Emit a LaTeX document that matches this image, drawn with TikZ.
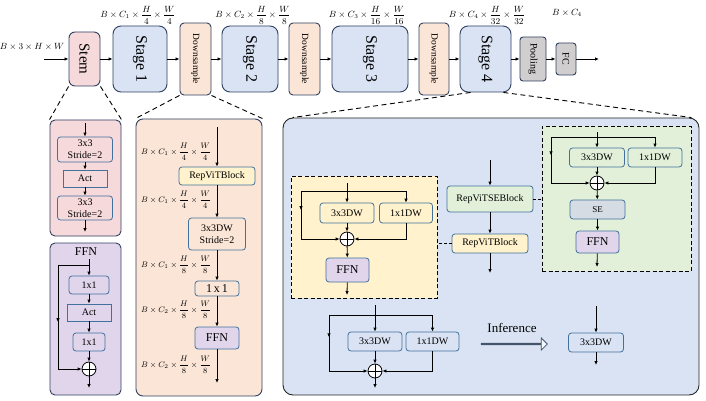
\documentclass[tikz,border=0pt]{standalone}
\usepackage{amsmath}
\usepackage{fontspec}
\setmainfont{Liberation Serif}
\usetikzlibrary{arrows.meta,calc,shapes.arrows}
\definecolor{cPink}{HTML}{F6D9DB}
\definecolor{cBlue}{HTML}{DAE3F3}
\definecolor{cPeach}{HTML}{FBE5D6}
\definecolor{cGray}{HTML}{D0CECE}
\definecolor{cPurple}{HTML}{E1D5EC}
\definecolor{cYellow}{HTML}{FFF2CC}
\definecolor{cGreen}{HTML}{E2F0D9}
\definecolor{cSE}{HTML}{D6DCE4}
\definecolor{cBord}{HTML}{2F4060}
\definecolor{cInner}{HTML}{41719C}
\definecolor{cArrow}{HTML}{44546A}
\newcommand{\myfs}[1]{\fontsize{#1}{#1}\selectfont}
\begin{document}
\begin{tikzpicture}[x=1pt,y=-1pt,
  arr/.style={-{Latex[length=4pt,width=3.5pt]}, line width=0.8pt},
  plain/.style={line width=0.8pt},
  topb/.style={draw=cBord, line width=0.9pt, inner sep=0pt, align=center},
  stagebox/.style={topb, fill=cBlue, rounded corners=8pt, font=\myfs{16}},
  dsbox/.style={topb, fill=cPeach, rounded corners=4pt, font=\myfs{9.5}},
  graybox/.style={topb, fill=cGray, rounded corners=3pt, font=\myfs{10}},
  ib/.style={draw=cInner, line width=0.8pt, rounded corners=3pt, inner sep=0pt, align=center, font=\myfs{10}},
  sq/.style={draw=cInner, line width=0.8pt, inner sep=0pt, align=center, font=\myfs{10}},
  panel/.style={draw=cBord, line width=0.9pt, rounded corners=5pt, inner sep=0pt},
  dpanel/.style={draw=black, line width=0.9pt, dash pattern=on 4pt off 2.5pt, inner sep=0pt},
  conn/.style={line width=0.9pt, dash pattern=on 5pt off 3.5pt},
  addn/.style={circle, draw, fill=white, line width=0.8pt, minimum size=14pt, inner sep=0pt,
    path picture={\draw[line width=0.8pt] (path picture bounding box.north) -- (path picture bounding box.south) (path picture bounding box.west) -- (path picture bounding box.east);}},
  lab/.style={font=\myfs{9}, inner sep=0pt},
  mlab/.style={font=\myfs{8}, inner sep=0pt, anchor=west},
]
\useasboundingbox (0,0) rectangle (706,401);

% ---------- panels ----------
\node[panel, fill=cPink, minimum width=71pt, minimum height=116pt] (pp) at (85.5,178) {};
\node[panel, fill=cPurple, minimum width=71pt, minimum height=152pt] (fp) at (85.5,319) {};
\node[panel, fill=cPeach, rounded corners=7pt, minimum width=126pt, minimum height=277pt] (mp) at (199,257.5) {};
\node[panel, fill=cBlue, draw=black!85, rounded corners=10pt, minimum width=416pt, minimum height=277pt] (rp) at (491,256.5) {};
\node[dpanel, fill=cYellow, minimum width=146pt, minimum height=122pt] (yb) at (364,237) {};
\node[dpanel, fill=cGreen, minimum width=149pt, minimum height=145pt] (gb) at (616.5,198.5) {};

% ---------- top row ----------
\coordinate (in) at (44,59);
\node[topb, fill=cPink, rounded corners=6pt, minimum width=31pt, minimum height=54pt, font=\myfs{15}] (stem) at (84.5,59) {\rotatebox{-90}{Stem}};
\node[stagebox, minimum width=54pt, minimum height=66pt] (s1) at (140,59) {\rotatebox{-90}{Stage 1}};
\node[dsbox, minimum width=31pt, minimum height=72pt] (d1) at (195.5,59) {\rotatebox{-90}{Downsample}};
\node[stagebox, minimum width=56pt, minimum height=66pt] (s2) at (250,59) {\rotatebox{-90}{Stage 2}};
\node[dsbox, minimum width=31pt, minimum height=72pt] (d2) at (304.5,59) {\rotatebox{-90}{Downsample}};
\node[stagebox, minimum width=76pt, minimum height=66pt] (s3) at (370,59) {\rotatebox{-90}{Stage 3}};
\node[dsbox, minimum width=30pt, minimum height=72pt] (d3) at (434,59) {\rotatebox{-90}{Downsample}};
\node[stagebox, minimum width=51pt, minimum height=66pt] (s4) at (485.5,59) {\rotatebox{-90}{Stage 4}};
\node[graybox, minimum width=26pt, minimum height=44pt] (pool) at (533,59) {\rotatebox{-90}{Pooling}};
\node[graybox, minimum width=20pt, minimum height=32pt] (fc) at (566,59) {\rotatebox{-90}{FC}};
\coordinate (out) at (599,59);
\draw[arr] (in) -- (stem);
\draw[arr] (stem) -- (s1);
\draw[arr] (s1) -- (d1);
\draw[arr] (d1) -- (s2);
\draw[arr] (s2) -- (d2);
\draw[arr] (d2) -- (s3);
\draw[arr] (s3) -- (d3);
\draw[arr] (d3) -- (s4);
\draw[arr] (s4) -- (pool);
\draw[arr] (pool) -- (fc);
\draw[arr] (fc) -- (out);

\node[lab] (l0) at (32,47) {$B\times 3\times H\times W$};
\node[lab] (l1) at (138,15) {$B\times C_1\times\dfrac{H}{4}\times\dfrac{W}{4}$};
\node[lab] (l2) at (253,15) {$B\times C_2\times\dfrac{H}{8}\times\dfrac{W}{8}$};
\node[lab] (l3) at (367,15) {$B\times C_3\times\dfrac{H}{16}\times\dfrac{W}{16}$};
\node[lab] (l4) at (487,15) {$B\times C_4\times\dfrac{H}{32}\times\dfrac{W}{32}$};
\node[lab] (l5) at (567,13) {$B\times C_4$};

% ---------- dashed zoom connectors ----------
\draw[conn] (stem.south west) -- (pp.north west);
\draw[conn] (stem.south east) -- (pp.north east);
\draw[conn] (d1.south west) -- (mp.north west);
\draw[conn] (d1.south east) -- (mp.north east);
\draw[conn] ($(s4.south west)+(11,0)$) -- ($(rp.north west)+(10,0)$);
\draw[conn] ($(s4.south east)+(-8,0)$) -- ($(rp.north east)+(-8,0)$);

% ---------- stem panel ----------
\coordinate (p-in) at (85,123);
\node[ib, fill=cPink, minimum width=55pt, minimum height=25pt, font=\fontsize{10}{12}\selectfont] (p-c1) at (85,149.5) {3x3\\Stride=2};
\node[sq, fill=cPink, minimum width=44pt, minimum height=17pt] (p-act) at (85,178.5) {Act};
\node[ib, fill=cPink, minimum width=55pt, minimum height=24pt, font=\fontsize{10}{12}\selectfont] (p-c2) at (85,208) {3x3\\Stride=2};
\coordinate (p-out) at (85,232);
\draw[arr] (p-in) -- (p-c1);
\draw[arr] (p-c1) -- (p-act);
\draw[arr] (p-act) -- (p-c2);
\draw[arr] (p-c2) -- (p-out);

% ---------- FFN panel ----------
\node[font=\myfs{12}, inner sep=0pt] (f-title) at (86,252) {FFN};
\coordinate (f-in) at (89,259);
\coordinate (f-br) at (89,265);
\coordinate (f-lt) at (58,265);
\coordinate (f-lb) at (58,369);
\node[ib, fill=cPurple, minimum width=40pt, minimum height=18pt] (f-c1) at (89,285) {1x1};
\node[sq, fill=cPurple, minimum width=44pt, minimum height=17pt] (f-act) at (89,312.5) {Act};
\node[ib, fill=cPurple, minimum width=32pt, minimum height=18pt] (f-c2) at (89,342) {1x1};
\node[addn] (f-add) at (89,369) {};
\coordinate (f-out) at (89,388);
\draw[arr] (f-in) -- (f-c1);
\draw[plain] (f-br) -- (f-lt) -- (f-lb);
\draw[arr] (f-lb) -- (f-add);
\draw[arr] (f-lt) -- ($(f-lt)!0.55!(f-lb)$);
\draw[arr] (f-c1) -- (f-act);
\draw[arr] (f-act) -- (f-c2);
\draw[arr] (f-c2) -- (f-add);
\draw[arr] (f-add) -- (f-out);

% ---------- middle panel ----------
\coordinate (m-in) at (217,127);
\node[ib, fill=cYellow, minimum width=76pt, minimum height=18pt] (m-rep) at (217,176) {RepViTBlock};
\node[ib, fill=cPeach, minimum width=57pt, minimum height=32pt, font=\fontsize{10}{12}\selectfont] (m-dw) at (217,234) {3x3DW\\Stride=2};
\node[ib, fill=cPeach, minimum width=44pt, minimum height=15pt, font=\myfs{12}] (m-pw) at (217,288.5) {1\,x\,1};
\node[ib, fill=cPurple, minimum width=44pt, minimum height=22pt, font=\myfs{12}] (m-ffn) at (217,338) {FFN};
\coordinate (m-out) at (217,383);
\draw[arr] (m-in) -- (m-rep);
\draw[arr] (m-rep) -- (m-dw);
\draw[arr] (m-dw) -- (m-pw);
\draw[arr] (m-pw) -- (m-ffn);
\draw[arr] (m-ffn) -- (m-out);
\node[mlab] (m-l1) at (141,152) {$B\times C_1\times\dfrac{H}{4}\times\dfrac{W}{4}$};
\node[mlab] (m-l2) at (141,200) {$B\times C_1\times\dfrac{H}{4}\times\dfrac{W}{4}$};
\node[mlab] (m-l3) at (141,265) {$B\times C_1\times\dfrac{H}{8}\times\dfrac{W}{8}$};
\node[mlab] (m-l4) at (141,310) {$B\times C_2\times\dfrac{H}{8}\times\dfrac{W}{8}$};
\node[mlab] (m-l5) at (141,365) {$B\times C_2\times\dfrac{H}{8}\times\dfrac{W}{8}$};

% ---------- yellow block (RepViTBlock detail) ----------
\coordinate (y-in) at (347,183);
\coordinate (y-br) at (347,191);
\coordinate (y-lt) at (301,191);
\coordinate (y-lb) at (301,239);
\node[ib, fill=cYellow, minimum width=54pt, minimum height=20pt] (y-dw3) at (347,213) {3x3DW};
\node[ib, fill=cYellow, minimum width=53pt, minimum height=20pt] (y-dw1) at (406,213) {1x1DW};
\node[addn] (y-add) at (347,239) {};
\node[ib, fill=cPurple, minimum width=43pt, minimum height=24pt, font=\myfs{12}] (y-ffn) at (347.5,270) {FFN};
\coordinate (y-out) at (347,295);
\draw[arr] (y-in) -- (y-dw3);
\draw[arr] (y-br) -| (y-dw1);
\draw[plain] (y-br) -- (y-lt) -- (y-lb);
\draw[arr] (y-lb) -- (y-add);
\draw[arr] (y-lt) -- ($(y-lt)!0.4!(y-lb)$);
\draw[arr] (y-dw1) |- (y-add);
\draw[arr] (y-dw3) -- (y-add);
\draw[arr] (y-add) -- (y-ffn);
\draw[arr] (y-ffn) -- (y-out);

% ---------- centre column ----------
\coordinate (c-in) at (490,160);
\node[ib, fill=cGreen, minimum width=86pt, minimum height=26pt] (c-se) at (490,199) {RepViTSEBlock};
\node[ib, fill=cYellow, minimum width=76pt, minimum height=19pt] (c-rep) at (490,243.5) {RepViTBlock};
\coordinate (c-out) at (490,273);
\draw[arr] (c-in) -- (c-se);
\draw[arr] (c-se) -- (c-rep);
\draw[arr] (c-rep) -- (c-out);
\draw[conn, dash pattern=on 3pt off 2pt] (c-rep.west) -- (yb.east |- c-rep.west);
\draw[conn, dash pattern=on 3pt off 2pt] (c-se.east) -- (gb.west |- c-se.east);

% ---------- green block (RepViTSEBlock detail) ----------
\coordinate (g-in) at (597,132);
\coordinate (g-br) at (597,137);
\coordinate (g-lt) at (551,137);
\coordinate (g-lb) at (551,183);
\node[ib, fill=cGreen, minimum width=55pt, minimum height=19pt] (g-dw3) at (597,157.5) {3x3DW};
\node[ib, fill=cGreen, minimum width=54pt, minimum height=19pt] (g-dw1) at (655,157.5) {1x1DW};
\node[addn] (g-add) at (597,183) {};
\node[ib, fill=cSE, minimum width=55pt, minimum height=19pt, font=\myfs{9}] (g-se) at (597.5,209.5) {SE};
\node[ib, fill=cPurple, minimum width=43pt, minimum height=22pt, font=\myfs{12}] (g-ffn) at (597.5,242) {FFN};
\coordinate (g-out) at (597,267);
\draw[arr] (g-in) -- (g-dw3);
\draw[arr] (g-br) -| (g-dw1);
\draw[plain] (g-br) -- (g-lt) -- (g-lb);
\draw[arr] (g-lb) -- (g-add);
\draw[arr] (g-lt) -- ($(g-lt)!0.4!(g-lb)$);
\draw[arr] (g-dw1) |- (g-add);
\draw[arr] (g-dw3) -- (g-add);
\draw[arr] (g-add) -- (g-se);
\draw[arr] (g-se) -- (g-ffn);
\draw[arr] (g-ffn) -- (g-out);

% ---------- bottom: training form ----------
\coordinate (b-in) at (375,305);
\coordinate (b-br) at (375,315);
\coordinate (b-lt) at (329,315);
\coordinate (b-lb) at (329,371);
\node[ib, fill=cBlue, minimum width=54pt, minimum height=19pt] (b-dw3) at (375,341.5) {3x3DW};
\node[ib, fill=cBlue, minimum width=53pt, minimum height=19pt] (b-dw1) at (432.5,341.5) {1x1DW};
\node[addn] (b-add) at (375,371) {};
\coordinate (b-out) at (375,388);
\draw[arr] (b-in) -- (b-dw3);
\draw[arr] (b-br) -| (b-dw1);
\draw[plain] (b-br) -- (b-lt) -- (b-lb);
\draw[arr] (b-lb) -- (b-add);
\draw[arr] (b-lt) -- ($(b-lt)!0.4!(b-lb)$);
\draw[arr] (b-dw1) |- (b-add);
\draw[arr] (b-dw3) -- (b-add);
\draw[arr] (b-add) -- (b-out);

% ---------- inference ----------
\node[font=\myfs{13}, inner sep=0pt] (inf) at (512,328) {Inference};
\node[single arrow, draw=cArrow, fill=white!70!cBlue, line width=0.8pt, minimum height=66pt, minimum width=12pt,
  single arrow head extend=3.5pt, inner sep=0pt] (infarr) at (514,344) {};
\coordinate (i-in) at (596,306);
\node[ib, fill=cBlue, minimum width=55pt, minimum height=19pt] (i-dw) at (596,342.5) {3x3DW};
\coordinate (i-out) at (596,365);
\draw[arr] (i-in) -- (i-dw);
\draw[arr] (i-dw) -- (i-out);
\end{tikzpicture}
\end{document}
